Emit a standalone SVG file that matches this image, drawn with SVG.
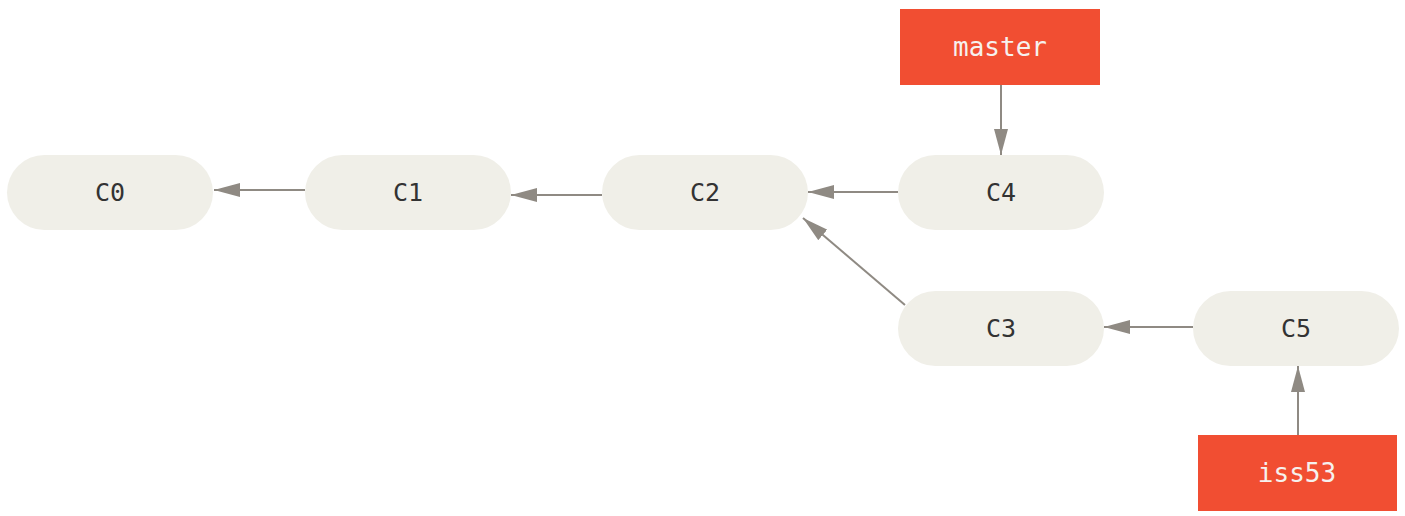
<svg xmlns="http://www.w3.org/2000/svg" width="1405" height="516" viewBox="0 0 1405 516">
<defs>
<style>
.node rect{fill:#f0efe8}
.node text{font-family:"DejaVu Sans Mono",monospace;font-size:25px;fill:#333;text-anchor:middle;dominant-baseline:central}
.ref rect{fill:#f14e32}
.ref text{font-family:"DejaVu Sans Mono",monospace;font-size:26px;fill:#f6f1ee;text-anchor:middle;dominant-baseline:central}
.edges line{stroke:#8f8a83;stroke-width:2;marker-end:url(#ah)}
</style>
<marker id="ah" viewBox="0 0 26 14" refX="26" refY="7" markerWidth="26" markerHeight="14" markerUnits="userSpaceOnUse" orient="auto">
<path d="M0,0 L26,7 L0,14 Z" fill="#8f8a83"/>
</marker>
</defs>
<rect width="1405" height="516" fill="#fff"/>
<g class="edges">
<line x1="305" y1="190" x2="214" y2="190"/>
<line x1="602" y1="195" x2="511" y2="195"/>
<line x1="898" y1="192" x2="808" y2="192"/>
<line x1="905" y1="305" x2="803" y2="218"/>
<line x1="1193" y1="327" x2="1104" y2="327"/>
<line x1="1001" y1="85" x2="1001" y2="155"/>
<line x1="1298" y1="435" x2="1298" y2="366"/>
</g>
<g id="C0" class="node"><rect x="7" y="155" width="206" height="75" rx="37.5"/><text x="110" y="192">C0</text></g>
<g id="C1" class="node"><rect x="305" y="155" width="206" height="75" rx="37.5"/><text x="408" y="192">C1</text></g>
<g id="C2" class="node"><rect x="602" y="155" width="206" height="75" rx="37.5"/><text x="705" y="192">C2</text></g>
<g id="C4" class="node"><rect x="898" y="155" width="206" height="75" rx="37.5"/><text x="1001" y="192">C4</text></g>
<g id="C3" class="node"><rect x="898" y="291" width="206" height="75" rx="37.5"/><text x="1001" y="328">C3</text></g>
<g id="C5" class="node"><rect x="1193" y="291" width="206" height="75" rx="37.5"/><text x="1296" y="328">C5</text></g>
<g id="master" class="ref"><rect x="900" y="9" width="200" height="76"/><text x="1000" y="47">master</text></g>
<g id="iss53" class="ref"><rect x="1198" y="435" width="199" height="76"/><text x="1297" y="473">iss53</text></g>
</svg>
